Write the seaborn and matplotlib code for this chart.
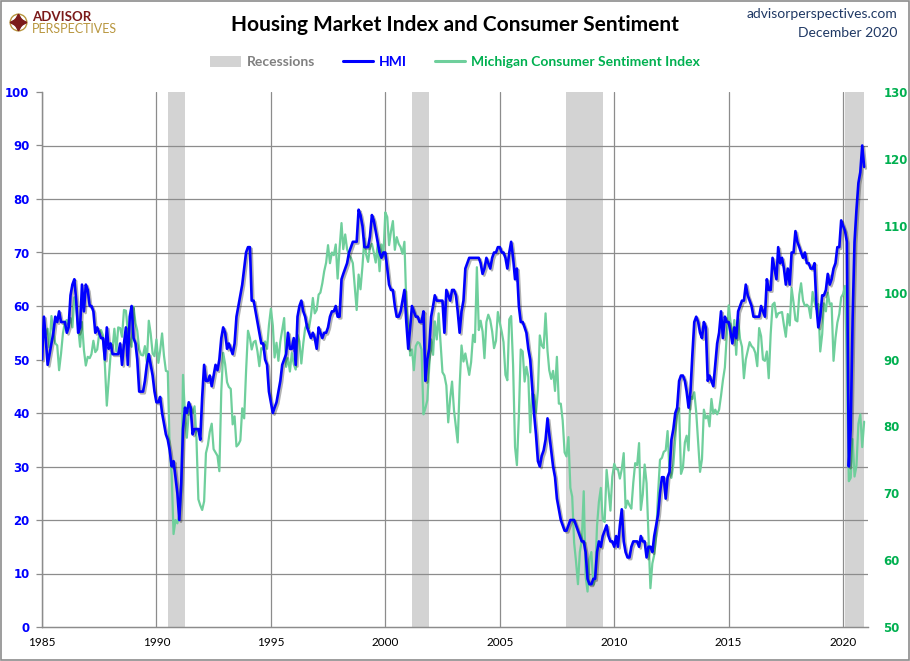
import matplotlib
matplotlib.use("Agg")
import matplotlib.pyplot as plt
import matplotlib.dates as mdates
import matplotlib.patheffects as pe
from matplotlib.patches import Patch, Rectangle
from matplotlib.lines import Line2D
import numpy as np
import pandas as pd
import seaborn as sns

# NAHB Housing Market Index, monthly (one row per year)
hmi_1985_1994 = [
    50, 58, 54, 49, 51, 53, 55, 58, 57, 59, 57, 57,
    57, 55, 56, 62, 64, 65, 61, 55, 56, 64, 59, 64,
    63, 60, 60, 59, 55, 56, 55, 54, 54, 50, 56, 52,
    53, 51, 51, 51, 51, 53, 49, 53, 56, 49, 58, 60,
    54, 53, 50, 44, 44, 44, 46, 49, 51, 49, 47, 44,
    42, 42, 43, 40, 38, 36, 35, 33, 30, 31, 28, 25,
    20, 27, 37, 41, 40, 42, 41, 36, 37, 37, 37, 35,
    43, 49, 46, 46, 47, 45, 47, 49, 48, 50, 54, 56,
    55, 52, 53, 52, 51, 53, 58, 60, 62, 64, 67, 70,
    71, 71, 61, 61, 59, 57, 55, 53, 53, 50, 49, 44,
]
hmi_1995_2004 = [
    42, 40, 41, 42, 44, 46, 49, 50, 51, 55, 52, 52,
    54, 49, 58, 60, 61, 59, 58, 56, 55, 54, 55, 54,
    52, 56, 55, 54, 55, 55, 56, 58, 59, 59, 60, 58,
    58, 65, 66, 67, 68, 70, 71, 72, 72, 72, 78, 77,
    75, 71, 71, 71, 73, 77, 76, 74, 72, 70, 69, 70,
    70, 67, 64, 63, 63, 60, 58, 58, 59, 61, 63, 57,
    52, 56, 60, 59, 58, 58, 57, 57, 59, 46, 50, 52,
    58, 60, 62, 61, 61, 61, 61, 55, 63, 62, 61, 63,
    63, 62, 59, 55, 59, 61, 67, 68, 69, 69, 69, 69,
    69, 69, 68, 66, 67, 69, 68, 67, 69, 70, 70, 71,
]
hmi_2005_2014 = [
    71, 70, 70, 69, 67, 70, 72, 69, 65, 67, 60, 57,
    57, 56, 55, 52, 50, 45, 40, 36, 31, 30, 32, 33,
    35, 39, 36, 33, 30, 28, 24, 22, 20, 19, 18, 18,
    19, 20, 20, 20, 19, 18, 17, 16, 16, 14, 9, 8,
    8, 9, 9, 14, 16, 15, 17, 18, 19, 17, 16, 16,
    15, 17, 15, 19, 22, 16, 14, 13, 13, 15, 16, 16,
    16, 15, 17, 16, 16, 13, 15, 15, 14, 17, 19, 21,
    25, 28, 28, 24, 28, 29, 35, 37, 40, 41, 46, 47,
    47, 46, 44, 41, 44, 51, 57, 58, 57, 55, 54, 57,
    56, 46, 47, 46, 45, 49, 53, 55, 59, 54, 58, 57,
]
hmi_2015_2020 = [
    57, 55, 53, 56, 54, 59, 60, 61, 61, 64, 62, 61,
    60, 58, 58, 58, 58, 60, 59, 58, 65, 63, 63, 69,
    67, 65, 71, 68, 69, 67, 64, 67, 64, 70, 70, 74,
    72, 71, 70, 69, 70, 68, 68, 67, 67, 68, 60, 56,
    58, 62, 62, 63, 66, 64, 65, 67, 68, 71, 71, 76,
    75, 74, 72, 30, 37, 58, 72, 78, 83, 85, 90, 86,
]

# University of Michigan Consumer Sentiment, monthly
mich_1985_1994 = [
    96.0, 93.7, 93.7, 94.6, 91.8, 96.5, 94.0, 92.4, 92.1, 88.4, 90.9, 93.9,
    95.6, 95.9, 95.1, 96.2, 94.8, 99.3, 97.7, 94.9, 91.9, 95.6, 91.4, 89.1,
    90.4, 90.2, 90.8, 92.8, 91.1, 91.5, 93.7, 94.4, 93.6, 89.3, 83.1, 86.8,
    90.8, 91.6, 94.6, 91.2, 94.8, 94.7, 93.4, 97.4, 97.3, 94.1, 93.0, 91.9,
    97.9, 95.4, 94.3, 91.5, 90.7, 90.6, 92.0, 89.6, 95.8, 93.9, 90.9, 90.5,
    93.0, 89.5, 91.3, 93.9, 90.6, 88.3, 88.2, 76.4, 72.8, 63.9, 66.0, 65.5,
    66.8, 70.4, 87.7, 81.8, 78.3, 82.1, 82.9, 82.0, 83.0, 78.3, 69.1, 68.2,
    67.5, 68.8, 76.0, 77.2, 79.2, 80.4, 76.6, 76.1, 75.6, 73.3, 85.3, 91.0,
    89.3, 86.6, 85.9, 85.6, 80.3, 81.5, 77.0, 77.3, 77.9, 82.7, 81.2, 88.2,
    94.3, 93.2, 91.5, 92.6, 92.8, 91.2, 89.0, 91.7, 91.5, 92.7, 91.6, 95.1,
]
mich_1995_2004 = [
    97.6, 95.1, 90.3, 92.5, 89.8, 92.7, 94.4, 96.2, 88.9, 90.2, 88.2, 91.0,
    89.3, 88.5, 93.7, 92.7, 89.4, 92.4, 94.7, 95.3, 94.7, 96.5, 99.2, 96.9,
    97.4, 99.7, 100.0, 101.4, 103.2, 104.5, 107.1, 104.4, 106.0, 105.6, 107.2, 102.1,
    106.6, 110.4, 106.5, 108.7, 106.5, 105.6, 105.2, 104.4, 100.9, 97.4, 102.7, 100.5,
    103.9, 108.1, 105.7, 104.6, 106.8, 107.3, 106.0, 104.5, 107.2, 103.2, 107.2, 105.4,
    112.0, 111.3, 107.1, 109.2, 110.7, 106.4, 108.3, 107.3, 106.8, 105.8, 107.6, 98.4,
    94.7, 90.6, 91.5, 88.4, 92.0, 92.6, 92.4, 91.5, 81.8, 82.7, 83.9, 88.8,
    93.0, 90.7, 95.7, 93.0, 96.9, 92.4, 88.1, 87.6, 86.1, 80.6, 84.2, 86.7,
    82.4, 79.9, 77.6, 86.0, 92.1, 89.7, 90.9, 89.3, 87.7, 89.6, 93.7, 92.6,
    103.8, 94.4, 95.8, 94.2, 90.2, 95.6, 96.7, 95.9, 94.2, 91.7, 92.8, 97.1,
]
mich_2005_2014 = [
    95.5, 94.1, 92.6, 87.7, 86.9, 96.0, 96.5, 89.1, 76.9, 74.2, 81.6, 91.5,
    91.2, 86.7, 88.9, 87.4, 79.1, 84.9, 84.7, 82.0, 85.4, 93.6, 92.1, 91.7,
    96.9, 91.3, 88.4, 87.1, 88.3, 85.3, 90.4, 83.4, 83.4, 80.9, 76.1, 75.5,
    78.4, 70.8, 69.5, 62.6, 59.8, 56.4, 61.2, 63.0, 70.3, 57.6, 55.3, 60.1,
    61.2, 56.3, 57.3, 65.1, 68.7, 70.8, 66.0, 65.7, 73.5, 70.6, 67.4, 72.5,
    74.4, 73.6, 73.6, 72.2, 73.6, 76.0, 67.8, 68.9, 68.2, 67.7, 71.6, 74.5,
    74.2, 77.5, 67.5, 69.8, 74.3, 71.5, 63.7, 55.8, 59.5, 60.8, 63.7, 69.9,
    75.0, 75.3, 76.2, 76.4, 79.3, 73.2, 72.3, 74.3, 78.3, 82.6, 82.7, 72.9,
    73.8, 77.6, 78.6, 76.4, 84.5, 84.1, 85.1, 82.1, 77.5, 73.2, 75.1, 82.5,
    81.2, 81.6, 80.0, 84.1, 81.9, 82.5, 81.8, 82.5, 84.6, 86.9, 88.8, 93.6,
]
mich_2015_2020 = [
    98.1, 95.4, 93.0, 95.9, 90.7, 96.1, 93.1, 91.9, 87.2, 90.0, 91.3, 92.6,
    92.0, 91.7, 91.0, 89.0, 94.7, 93.5, 90.0, 89.8, 91.2, 87.2, 93.8, 98.2,
    98.5, 96.3, 96.9, 97.0, 97.1, 95.1, 93.4, 96.8, 95.1, 100.7, 98.5, 95.9,
    95.7, 99.7, 101.4, 98.8, 98.0, 98.2, 97.9, 96.2, 100.1, 98.6, 97.5, 98.3,
    91.2, 93.8, 98.4, 97.2, 100.0, 98.2, 98.4, 89.8, 93.2, 95.5, 96.8, 99.3,
    99.8, 101.0, 89.1, 71.8, 72.3, 78.1, 72.5, 74.1, 80.4, 81.8, 76.9, 80.7,
]

# NBER recessions (start month, first month after end)
recession_starts = ["1990-07-01", "2001-03-01", "2007-12-01", "2020-02-01"]
recession_ends = ["1991-04-01", "2001-12-01", "2009-07-01", "2020-12-01"]

hmi = hmi_1985_1994 + hmi_1995_2004 + hmi_2005_2014 + hmi_2015_2020
mich = mich_1985_1994 + mich_1995_2004 + mich_2005_2014 + mich_2015_2020
dates = pd.date_range("1985-01-01", periods=len(hmi), freq="MS")
df = pd.DataFrame({"date": dates, "HMI": hmi, "Sentiment": mich})

blue = "#0000FF"
green_line = "#6FCF9C"
green_text = "#00B050"
grid_col = "#8C8C8C"
navy = "#1F3864"

sns.set_style("white")
plt.rcParams["font.family"] = ["Lato", "DejaVu Sans"]

fig = plt.figure(figsize=(9.1, 6.61), dpi=100)
ax = fig.add_axes([42 / 910, 1 - 627 / 661, (868 - 42) / 910, (627 - 92) / 661])
ax2 = ax.twinx()
# blue HMI axis on top, sentiment + background stuff underneath
ax.set_zorder(ax2.get_zorder() + 1)
ax.patch.set_visible(False)

for s, e in zip(recession_starts, recession_ends):
    ax2.axvspan(pd.Timestamp(s), pd.Timestamp(e), color="#D3D3D3", lw=0, zorder=0)

sns.lineplot(data=df, x="date", y="Sentiment", ax=ax2, color=green_line,
             linewidth=1.6, zorder=3)
sns.lineplot(data=df, x="date", y="HMI", ax=ax, color=blue, linewidth=1.9, zorder=4)
ax.lines[0].set_path_effects([pe.SimpleLineShadow(offset=(1.2, -1.2), alpha=0.3),
                              pe.Normal()])

ax.set_ylim(0, 100)
ax2.set_ylim(50, 130)
ax.set_xlim(pd.Timestamp("1985-01-01"), pd.Timestamp("2021-02-01"))
for a in (ax, ax2):
    a.set_xlabel("")
    a.set_ylabel("")

ax.set_yticks(np.arange(0, 101, 10))
ax2.set_yticks(np.arange(50, 131, 10))
ax.xaxis.set_major_locator(mdates.YearLocator(5))
ax.xaxis.set_major_formatter(mdates.DateFormatter("%Y"))

# gridlines live on the lower axes so the lines sit on top of them
ax2.xaxis.set_visible(True)
ax2.set_yticks(np.arange(58, 131, 8), minor=True)
ax2.grid(which="minor", axis="y", color=grid_col, lw=0.9)
ax2.grid(which="major", axis="x", color=grid_col, lw=0.9)
ax2.grid(which="major", axis="y", visible=False)
ax2.tick_params(axis="x", which="both", length=0, labelbottom=False, labeltop=False)
ax2.tick_params(axis="y", which="minor", length=0)

ax.tick_params(axis="y", colors=grid_col, labelcolor=blue, length=4, width=0.9,
               pad=5, labelsize=8.5)
ax.tick_params(axis="x", length=0, pad=7, labelsize=8.5, labelcolor="black")
ax2.tick_params(axis="y", which="major", length=0, pad=11, labelcolor=green_text,
                labelsize=8.5)
for lab in ax.get_yticklabels() + ax2.get_yticklabels():
    lab.set_fontfamily("DejaVu Sans")
    lab.set_fontweight("bold")

for a in (ax, ax2):
    for side in ("top", "right"):
        a.spines[side].set_visible(False)
    a.spines["left"].set_color(grid_col)
    a.spines["bottom"].set_color(grid_col)
    a.spines["left"].set_linewidth(0.9)
    a.spines["bottom"].set_linewidth(0.9)

# titles and branding
fig.text(0.5, 1 - 25 / 661, "Housing Market Index and Consumer Sentiment",
         ha="center", va="center", fontsize=15, fontweight="bold", color="black")
fig.text(897 / 910, 1 - 14 / 661, "advisorperspectives.com", ha="right",
         va="center", fontsize=10, color=navy)
fig.text(897 / 910, 1 - 33 / 661, "December 2020", ha="right", va="center",
         fontsize=10, color=navy)
fig.text(32 / 910, 1 - 21 / 661, "ADVISOR", ha="left", va="baseline", fontsize=9.5,
         fontweight="bold", color="#7B1A1A")
fig.text(32 / 910, 1 - 33 / 661, "PERSPECTIVES", ha="left", va="baseline",
         fontsize=9, color="#B8963E")
# small compass logo
fig.add_artist(Line2D([18 / 910], [1 - 22 / 661], transform=fig.transFigure,
                      marker="o", markersize=12, mfc="none", mec="#B8963E",
                      mew=1.0, lw=0))
fig.add_artist(Line2D([18 / 910], [1 - 22 / 661], transform=fig.transFigure,
                      marker=(4, 1, 0), markersize=12, color="#7B1A1A", lw=0))
fig.add_artist(Line2D([18 / 910], [1 - 22 / 661], transform=fig.transFigure,
                      marker=(4, 1, 45), markersize=7, color="#7B1A1A", lw=0))

handles = [
    Patch(facecolor="#D3D3D3", edgecolor="none"),
    Line2D([], [], color=blue, lw=2.2),
    Line2D([], [], color=green_line, lw=2.2),
]
fig.legend(handles, ["Recessions", "HMI", "Michigan Consumer Sentiment Index"],
           loc="center", bbox_to_anchor=(0.5, 1 - 62 / 661), ncol=3, frameon=False,
           labelcolor=["#808080", blue, green_text], handlelength=2.2,
           handleheight=0.8, handletextpad=0.4, columnspacing=2.0,
           prop={"weight": "bold", "size": 10})

fig.add_artist(Rectangle((0.001, 0.001), 0.998, 0.998, transform=fig.transFigure,
                         fill=False, ec="#8C8C8C", lw=1.2))

fig.savefig("out.png", dpi=100, facecolor="white")
